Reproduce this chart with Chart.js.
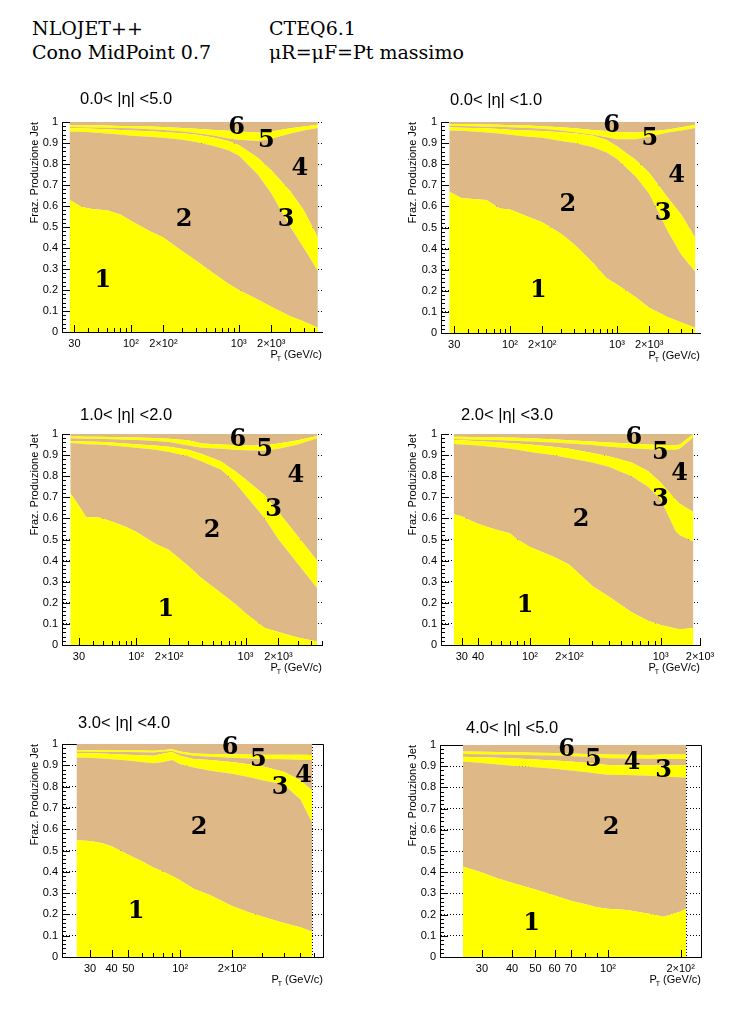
<!DOCTYPE html>
<html>
<head>
<meta charset="utf-8">
<script src="https://cdn.jsdelivr.net/npm/chart.js@4.4.1/dist/chart.umd.min.js"></script>
<style>
  body { margin: 0; background: #fff; width: 754px; height: 1020px; position: relative; overflow: hidden; }
  canvas { position: absolute; }
  .hdr { position: absolute; font-family: "DejaVu Serif"; font-size: 19px; line-height: 20px; color: #000; white-space: nowrap; }
</style>
</head>
<body>
<div class="hdr" style="left:32px;top:18px">NLOJET++</div>
<div class="hdr" style="left:269px;top:18px">CTEQ6.1</div>
<div class="hdr" style="left:32px;top:42px">Cono MidPoint 0.7</div>
<div class="hdr" style="left:269px;top:42px">μR=μF=Pt massimo</div>

<canvas id="c05" width="377" height="310" style="left:0px;top:80px"></canvas>
<canvas id="c01" width="377" height="310" style="left:377px;top:80px"></canvas>
<canvas id="c12" width="377" height="310" style="left:0px;top:392px"></canvas>
<canvas id="c23" width="377" height="310" style="left:377px;top:392px"></canvas>
<canvas id="c34" width="377" height="310" style="left:0px;top:702px"></canvas>
<canvas id="c45" width="377" height="310" style="left:377px;top:702px"></canvas>

<script>
// cumulative fractions: b1 = top of process 1, b2 = top of 1+2, ... b5 = top of 1..5
// 0.0 < |eta| < 5.0
const pt05 = [27, 35, 45, 60, 80, 100, 150, 200, 300, 400, 600, 800, 1000, 1500, 2000, 3000, 4000, 5400];
const b1_05 = [0.63, 0.595, 0.585, 0.58, 0.56, 0.53, 0.48, 0.45, 0.385, 0.34, 0.275, 0.23, 0.2, 0.155, 0.12, 0.075, 0.05, 0.02];
const b2_05 = [0.955, 0.953, 0.95, 0.945, 0.94, 0.935, 0.93, 0.925, 0.915, 0.905, 0.885, 0.865, 0.84, 0.75, 0.66, 0.5, 0.4, 0.29];
const b3_05 = [0.97, 0.97, 0.968, 0.965, 0.962, 0.96, 0.956, 0.952, 0.946, 0.94, 0.925, 0.91, 0.89, 0.83, 0.77, 0.67, 0.58, 0.45];
const b4_05 = [0.976, 0.975, 0.974, 0.973, 0.971, 0.97, 0.966, 0.962, 0.955, 0.948, 0.935, 0.922, 0.915, 0.91, 0.92, 0.945, 0.96, 0.972];
const b5_05 = [0.985, 0.985, 0.984, 0.983, 0.981, 0.98, 0.978, 0.976, 0.972, 0.968, 0.962, 0.958, 0.955, 0.95, 0.955, 0.97, 0.978, 0.987];

// 0.0 < |eta| < 1.0
const pt01 = [27, 35, 45, 60, 80, 100, 150, 200, 300, 400, 600, 800, 1000, 1500, 2000, 3000, 4000, 5400];
const b1_01 = [0.67, 0.64, 0.635, 0.63, 0.59, 0.585, 0.55, 0.525, 0.47, 0.42, 0.33, 0.26, 0.23, 0.17, 0.12, 0.075, 0.05, 0.025];
const b2_01 = [0.96, 0.958, 0.955, 0.95, 0.945, 0.94, 0.93, 0.925, 0.91, 0.9, 0.88, 0.855, 0.825, 0.74, 0.66, 0.48, 0.37, 0.29];
const b3_01 = [0.975, 0.973, 0.972, 0.97, 0.967, 0.963, 0.96, 0.957, 0.952, 0.947, 0.935, 0.915, 0.885, 0.82, 0.76, 0.64, 0.56, 0.45];
const b4_01 = [0.982, 0.981, 0.98, 0.978, 0.977, 0.975, 0.972, 0.968, 0.96, 0.952, 0.94, 0.928, 0.918, 0.918, 0.93, 0.95, 0.96, 0.972];
const b5_01 = [0.99, 0.99, 0.989, 0.988, 0.987, 0.985, 0.983, 0.98, 0.975, 0.97, 0.962, 0.957, 0.953, 0.95, 0.955, 0.965, 0.975, 0.987];

// 1.0 < |eta| < 2.0
const pt12 = [25, 30, 35, 45, 60, 80, 100, 150, 200, 300, 400, 600, 800, 1000, 1500, 2000, 3000, 4500];
const b1_12 = [0.72, 0.66, 0.605, 0.606, 0.585, 0.56, 0.537, 0.48, 0.45, 0.375, 0.315, 0.245, 0.195, 0.15, 0.08, 0.062, 0.035, 0.016];
const b2_12 = [0.957, 0.955, 0.952, 0.95, 0.945, 0.94, 0.935, 0.925, 0.915, 0.895, 0.87, 0.83, 0.77, 0.71, 0.6, 0.5, 0.385, 0.27];
const b3_12 = [0.967, 0.966, 0.965, 0.963, 0.96, 0.955, 0.952, 0.945, 0.94, 0.925, 0.905, 0.87, 0.825, 0.785, 0.71, 0.63, 0.515, 0.4];
const b4_12 = [0.98, 0.979, 0.978, 0.977, 0.975, 0.973, 0.972, 0.967, 0.962, 0.945, 0.935, 0.93, 0.925, 0.923, 0.922, 0.93, 0.95, 0.98];
const b5_12 = [0.988, 0.988, 0.987, 0.987, 0.986, 0.985, 0.984, 0.981, 0.978, 0.97, 0.955, 0.95, 0.948, 0.945, 0.945, 0.955, 0.97, 0.99];

// 2.0 < |eta| < 3.0
const pt23 = [26, 30, 35, 40, 50, 60, 70, 80, 100, 150, 200, 300, 400, 600, 800, 1000, 1300, 1400, 1780];
const b1_23 = [0.62, 0.61, 0.59, 0.575, 0.555, 0.54, 0.53, 0.5, 0.465, 0.42, 0.38, 0.28, 0.23, 0.155, 0.115, 0.095, 0.078, 0.075, 0.08];
const b2_23 = [0.953, 0.95, 0.948, 0.945, 0.94, 0.935, 0.93, 0.925, 0.915, 0.9, 0.885, 0.865, 0.845, 0.8, 0.75, 0.69, 0.54, 0.52, 0.49];
const b3_23 = [0.972, 0.97, 0.968, 0.966, 0.963, 0.96, 0.957, 0.955, 0.95, 0.94, 0.93, 0.91, 0.895, 0.865, 0.825, 0.77, 0.69, 0.67, 0.63];
const b4_23 = [0.976, 0.975, 0.974, 0.973, 0.972, 0.97, 0.968, 0.967, 0.965, 0.96, 0.955, 0.948, 0.94, 0.932, 0.928, 0.925, 0.925, 0.93, 0.985];
const b5_23 = [0.987, 0.987, 0.986, 0.986, 0.985, 0.984, 0.983, 0.982, 0.98, 0.975, 0.97, 0.965, 0.96, 0.955, 0.95, 0.948, 0.947, 0.95, 1.0];

// 3.0 < |eta| < 4.0
const pt34 = [25, 30, 35, 40, 50, 60, 70, 80, 90, 100, 120, 150, 200, 250, 300, 400, 500, 585];
const b1_34 = [0.548, 0.545, 0.535, 0.52, 0.48, 0.45, 0.42, 0.4, 0.38, 0.36, 0.32, 0.29, 0.24, 0.21, 0.19, 0.16, 0.14, 0.118];
const b2_34 = [0.937, 0.935, 0.932, 0.928, 0.922, 0.915, 0.91, 0.915, 0.925, 0.905, 0.89, 0.875, 0.86, 0.845, 0.83, 0.81, 0.74, 0.63];
const b3_34 = [0.958, 0.957, 0.955, 0.953, 0.95, 0.947, 0.945, 0.955, 0.963, 0.945, 0.93, 0.925, 0.915, 0.905, 0.895, 0.87, 0.83, 0.78];
const b4_34 = [0.965, 0.964, 0.963, 0.963, 0.962, 0.961, 0.96, 0.965, 0.967, 0.955, 0.945, 0.94, 0.935, 0.932, 0.93, 0.928, 0.926, 0.925];
const b5_34 = [0.972, 0.971, 0.971, 0.97, 0.97, 0.969, 0.968, 0.972, 0.975, 0.965, 0.955, 0.953, 0.952, 0.951, 0.95, 0.95, 0.95, 0.948];

// 4.0 < |eta| < 5.0
const pt45 = [25, 30, 35, 40, 50, 60, 70, 80, 90, 100, 120, 150, 170, 200, 211];
const b1_45 = [0.427, 0.398, 0.37, 0.35, 0.318, 0.29, 0.265, 0.25, 0.235, 0.228, 0.222, 0.203, 0.19, 0.215, 0.228];
const b2_45 = [0.922, 0.915, 0.908, 0.902, 0.895, 0.888, 0.88, 0.873, 0.866, 0.86, 0.858, 0.855, 0.85, 0.848, 0.847];
const b3_45 = [0.945, 0.942, 0.94, 0.937, 0.932, 0.927, 0.922, 0.916, 0.91, 0.906, 0.905, 0.905, 0.905, 0.905, 0.905];
const b4_45 = [0.958, 0.956, 0.955, 0.954, 0.952, 0.95, 0.948, 0.945, 0.942, 0.938, 0.936, 0.935, 0.935, 0.934, 0.934];
const b5_45 = [0.969, 0.968, 0.967, 0.966, 0.964, 0.962, 0.96, 0.958, 0.956, 0.955, 0.954, 0.953, 0.955, 0.955, 0.955];

// labelled x ticks per panel
const xlab05 = [30, 100, 200, 1000, 2000];
const xlab01 = [30, 100, 200, 1000, 2000];
const xlab12 = [30, 100, 200, 1000, 2000];
const xlab23 = [30, 40, 100, 200, 1000, 2000];
const xlab34 = [30, 40, 50, 100, 200];
const xlab45 = [30, 40, 50, 60, 70, 100, 200];

const titles = ['0.0< |η| <5.0', '0.0< |η| <1.0', '1.0< |η| <2.0', '2.0< |η| <3.0', '3.0< |η| <4.0', '4.0< |η| <5.0'];

const YELLOW = '#ffff00';
const TAN = '#deb887';
const SANS = '"Liberation Sans", Arial, sans-serif';
const SUP = { 2: '²', 3: '³' };

function fmtPt(v) {
  const e = Math.round(Math.log10(v));
  if (Math.abs(v - Math.pow(10, e)) < 1e-6 && e >= 2) return '10' + SUP[e];
  const e2 = Math.round(Math.log10(v / 2));
  if (Math.abs(v - 2 * Math.pow(10, e2)) < 1e-6 && e2 >= 2) return '2×10' + SUP[e2];
  return String(v);
}

function logTicks(min, max) {
  const out = [];
  for (let e = Math.floor(Math.log10(min)); Math.pow(10, e) <= max; e++) {
    for (let k = 1; k < 10; k++) {
      const v = k * Math.pow(10, e);
      if (v >= min && v <= max) out.push(v);
    }
  }
  return out;
}

function makePanel(p) {
  const W = 377, H = 310;
  const [cl, ct, cr, cb] = p.area;
  const bands = [p.b1, p.b2, p.b3, p.b4, p.b5];
  const datasets = bands.map((b, i) => ({
    data: p.pt.map((x, j) => ({ x: x, y: b[j] })),
    fill: i === 0 ? 'origin' : '-1',
    backgroundColor: i % 2 === 0 ? YELLOW : TAN,
    borderColor: 'transparent',
    borderWidth: 0,
    pointRadius: 0
  }));
  // process 6 = remainder up to 1
  datasets.push({
    data: p.pt.map((x, j) => ({ x: x, y: p.b5[j] })),
    fill: 'end',
    backgroundColor: TAN,
    borderColor: 'transparent',
    borderWidth: 0,
    pointRadius: 0
  });

  const decor = {
    id: 'decor' + p.id,
    beforeDatasetsDraw(chart) {
      if (!p.frame) return;
      const ctx = chart.ctx, a = chart.chartArea, xs = chart.scales.x;
      ctx.save();
      ctx.strokeStyle = '#000';
      ctx.lineWidth = 1;
      ctx.beginPath();
      ctx.moveTo(a.left, a.top + 0.5); ctx.lineTo(a.right + 0.5, a.top + 0.5);
      ctx.lineTo(a.right + 0.5, a.bottom);
      ctx.stroke();
      const xe = Math.round(xs.getPixelForValue(p.pt[p.pt.length - 1])) + 0.5;
      ctx.setLineDash([1, 2]);
      ctx.beginPath();
      ctx.moveTo(xe, a.top); ctx.lineTo(xe, a.bottom);
      ctx.stroke();
      ctx.restore();
    },
    afterDatasetsDraw(chart) {
      const ctx = chart.ctx, a = chart.chartArea;
      const xs = chart.scales.x, ys = chart.scales.y;
      ctx.save();
      ctx.strokeStyle = '#000';
      ctx.lineWidth = 1;
      // inward y ticks
      ctx.beginPath();
      for (let i = 0; i <= 50; i++) {
        const y = Math.round(ys.getPixelForValue(i / 50)) + 0.5;
        const len = i % 5 === 0 ? 8 : 4;
        ctx.moveTo(a.left, y); ctx.lineTo(a.left + len, y);
      }
      // inward x ticks
      xs.ticks.forEach(t => {
        const x = Math.round(xs.getPixelForValue(t.value)) + 0.5;
        const dec = Math.abs(Math.log10(t.value) % 1) < 1e-6;
        const len = (dec || p.xlab.includes(t.value)) ? 7 : 4;
        ctx.moveTo(x, a.bottom); ctx.lineTo(x, a.bottom - len);
      });
      ctx.stroke();

      // process numbers
      ctx.fillStyle = '#000';
      ctx.font = 'bold 24px "DejaVu Serif", serif';
      ctx.textAlign = 'center';
      ctx.textBaseline = 'middle';
      p.nums.forEach((x, i) => {
        if (x == null) return;
        ctx.fillText(String(i + 1), xs.getPixelForValue(x), ys.getPixelForValue(p.numY[i]) + 1);
      });

      // panel title
      ctx.font = '16.5px ' + SANS;
      ctx.textAlign = 'left';
      ctx.fillText(p.title, p.titlePos[0], p.titlePos[1]);

      // y title
      ctx.font = '11px ' + SANS;
      ctx.save();
      ctx.translate(p.ytx, a.top);
      ctx.rotate(-Math.PI / 2);
      ctx.textAlign = 'right';
      ctx.fillText('Fraz. Produzione Jet', 0, 0);
      ctx.restore();

      // x title  P_T (GeV/c)
      ctx.textBaseline = 'alphabetic';
      ctx.textAlign = 'left';
      const rest = ' (GeV/c)';
      ctx.font = '11px ' + SANS;
      const w1 = ctx.measureText(rest).width;
      const wP = ctx.measureText('P').width;
      ctx.font = '7px ' + SANS;
      const wT = ctx.measureText('T').width;
      const xb = a.right - w1 - wT;
      const yb = a.bottom + 26;
      ctx.fillText('T', xb, yb + 3);
      ctx.font = '11px ' + SANS;
      ctx.fillText('P', xb - wP + 1, yb);
      ctx.fillText(rest, xb + wT, yb);
      ctx.restore();
    }
  };

  return new Chart(document.getElementById(p.id), {
    type: 'line',
    data: { datasets: datasets },
    options: {
      responsive: false,
      animation: false,
      layout: { padding: { left: 0, top: ct, right: W - cr, bottom: H - cb - 30 } },
      plugins: { legend: { display: false }, tooltip: { enabled: false } },
      elements: { line: { tension: 0 } },
      scales: {
        x: {
          type: 'logarithmic',
          min: p.xmin,
          max: p.xmax,
          bounds: 'data',
          afterBuildTicks: s => { s.ticks = logTicks(p.xmin, p.xmax).map(v => ({ value: v })); },
          afterFit: s => { s.height = 30; },
          ticks: {
            autoSkip: false, maxRotation: 0, padding: 5, color: '#000',
            font: { family: SANS, size: 11 },
            callback: v => p.xlab.includes(v) ? fmtPt(v) : ''
          },
          grid: { drawOnChartArea: false, drawTicks: false },
          border: { color: '#000', width: 1, z: 1 }
        },
        y: {
          min: 0,
          max: 1,
          afterFit: s => { s.width = cl; },
          ticks: {
            stepSize: 0.1, padding: 4, color: '#000',
            font: { family: SANS, size: 11 },
            callback: v => String(Math.round(v * 10) / 10)
          },
          grid: { drawTicks: false, color: '#000', lineWidth: 1, z: -1 },
          border: { color: '#000', width: 1, dash: [1, 2], z: 1 }
        }
      }
    },
    plugins: [decor]
  });
}

makePanel({ id: 'c05', area: [62, 42, 322, 252], xmin: 23, xmax: 5900,
  pt: pt05, b1: b1_05, b2: b2_05, b3: b3_05, b4: b4_05, b5: b5_05, xlab: xlab05,
  title: titles[0], titlePos: [80, 19], ytx: 35, frame: false,
  nums: [55, 312, 2750, 3670, 1800, 952], numY: [0.248, 0.541, 0.541, 0.784, 0.914, 0.978] });

makePanel({ id: 'c01', area: [64, 42, 323, 253], xmin: 22.6, xmax: 5970,
  pt: pt01, b1: b1_01, b2: b2_01, b3: b3_01, b4: b4_01, b5: b5_01, xlab: xlab01,
  title: titles[1], titlePos: [73, 20], ytx: 36, frame: false,
  nums: [184, 347, 2700, 3600, 2030, 892], numY: [0.204, 0.611, 0.572, 0.752, 0.925, 0.987] });

makePanel({ id: 'c12', area: [62, 42, 322, 253], xmin: 21, xmax: 5000,
  pt: pt12, b1: b1_12, b2: b2_12, b3: b3_12, b4: b4_12, b5: b5_12, xlab: xlab12,
  title: titles[2], titlePos: [80, 23], ytx: 35, frame: false,
  nums: [187, 494, 1807, 2880, 1493, 851], numY: [0.174, 0.545, 0.648, 0.806, 0.932, 0.979] });

makePanel({ id: 'c23', area: [64, 42, 323, 253], xmin: 20.8, xmax: 2000,
  pt: pt23, b1: b1_23, b2: b2_23, b3: b3_23, b4: b4_23, b5: b5_23, xlab: xlab23,
  title: titles[3], titlePos: [84, 23], ytx: 36, frame: false,
  nums: [91.6, 246, 995, 1393, 995, 624], numY: [0.19, 0.6, 0.695, 0.814, 0.916, 0.987] });

makePanel({ id: 'c34', area: [62, 42, 323, 255], xmin: 20.6, xmax: 676,
  pt: pt34, b1: b1_34, b2: b2_34, b3: b3_34, b4: b4_34, b5: b5_34, xlab: xlab34,
  title: titles[4], titlePos: [78, 21], ytx: 35, frame: true,
  nums: [55.5, 129, 381, 521, 285, 195], numY: [0.219, 0.611, 0.8, 0.854, 0.933, 0.987] });

makePanel({ id: 'c45', area: [63, 43, 324, 255], xmin: 20.1, xmax: 243,
  pt: pt45, b1: b1_45, b2: b2_45, b3: b3_45, b4: b4_45, b5: b5_45, xlab: xlab45,
  title: titles[5], titlePos: [89, 26], ytx: 36, frame: true,
  nums: [48.2, 103, 170, 126, 86.9, 67.4], numY: [0.16, 0.615, 0.882, 0.921, 0.937, 0.984] });
</script>
</body>
</html>
